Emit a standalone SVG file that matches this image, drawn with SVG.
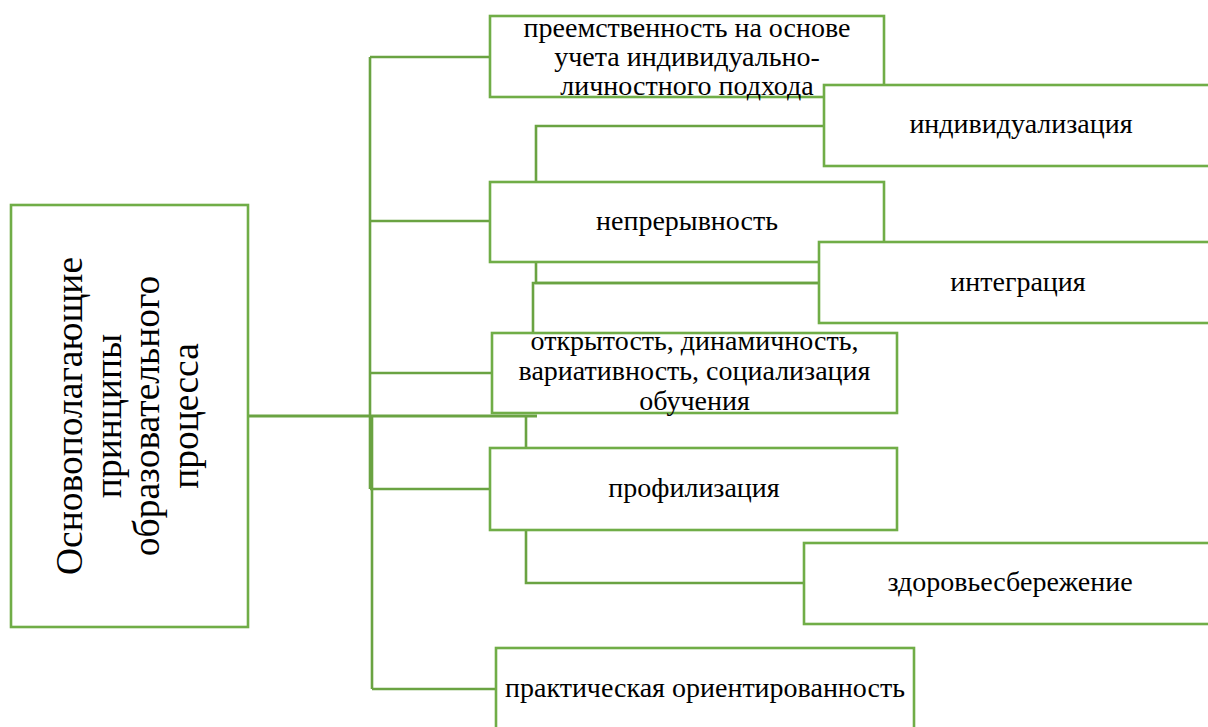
<svg xmlns="http://www.w3.org/2000/svg" width="1208" height="727" viewBox="0 0 1208 727">
<style>
.box{fill:#fff;stroke:#70AD47;stroke-width:2.6}
.c{fill:none;stroke:#6AA342;stroke-width:2.6}
text{font-family:'Liberation Serif','Tinos','Times New Roman','DejaVu Serif',serif;fill:#000;text-anchor:middle}
.t{font-size:28px}
.m{font-size:37.5px}
</style>
<rect width="1208" height="727" fill="#fff"/>
<g id="connectors">
<path class="c" d="M370 57V489"/>
<path class="c" d="M372 416V689"/>
<path class="c" d="M370 57H490"/>
<path class="c" d="M370 221H490"/>
<path class="c" d="M370 373H492"/>
<path class="c" d="M370 489H490"/>
<path class="c" d="M372 689H496"/>
<path class="c" style="stroke-width:3.2" d="M248 416H537"/>
<path class="c" d="M526 416V449"/>
<path class="c" d="M536 182V126H825"/>
<path class="c" d="M536 262V283H819"/>
<path class="c" d="M533 333V283H819"/>
<path class="c" d="M526 530V583H805"/>
</g>
<g id="main">
<rect class="box" x="11" y="205" width="237" height="422"/>
<text class="m" transform="translate(82,416) rotate(-90)">Основополагающие</text>
<text class="m" transform="translate(120.5,416) rotate(-90)">принципы</text>
<text class="m" transform="translate(159,416) rotate(-90)">образовательного</text>
<text class="m" transform="translate(197.5,416) rotate(-90)">процесса</text>
</g>
<g id="n1">
<rect class="box" x="490" y="16" width="394" height="81"/>
<text class="t" x="687" y="37">преемственность на основе</text>
<text class="t" x="687" y="66">учета индивидуально-</text>
<text class="t" x="687" y="95">личностного подхода</text>
</g>
<g id="n2">
<rect class="box" x="824" y="85" width="392" height="81"/>
<text class="t" x="1021" y="133">индивидуализация</text>
</g>
<g id="n3">
<rect class="box" x="490" y="182" width="394" height="80"/>
<text class="t" x="687" y="230">непрерывность</text>
</g>
<g id="n4">
<rect class="box" x="819" y="242" width="397" height="81"/>
<text class="t" x="1018" y="291">интеграция</text>
</g>
<g id="n5">
<rect class="box" x="492" y="333" width="405" height="80"/>
<text class="t" x="694.5" y="350">открытость, динамичность,</text>
<text class="t" x="694.5" y="380">вариативность, социализация</text>
<text class="t" x="694.5" y="410">обучения</text>
</g>
<g id="n6">
<rect class="box" x="490" y="448" width="407" height="82"/>
<text class="t" x="694" y="497">профилизация</text>
</g>
<g id="n7">
<rect class="box" x="804" y="543" width="412" height="81"/>
<text class="t" x="1010" y="591">здоровьесбережение</text>
</g>
<g id="n8">
<rect class="box" x="496" y="648" width="418" height="82"/>
<text class="t" x="705" y="697">практическая ориентированность</text>
</g>
</svg>
